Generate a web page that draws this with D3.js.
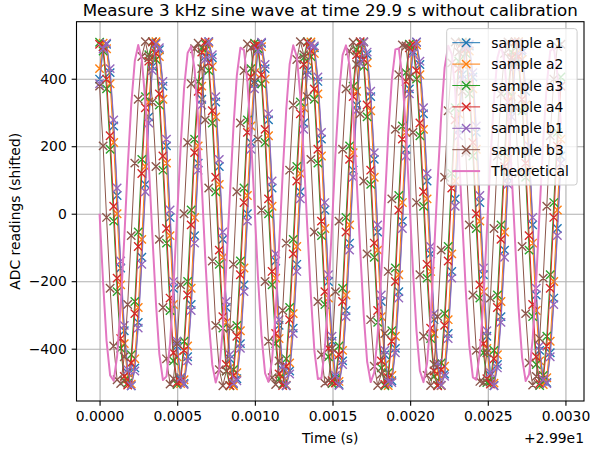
<!DOCTYPE html>
<html>
<head>
<meta charset="utf-8">
<script src="https://cdn.jsdelivr.net/npm/d3@7"></script>
<style>
  body { margin: 0; background: #fff; }
  svg { display: block; font-family: "DejaVu Sans", sans-serif; }
</style>
</head>
<body>
<svg id="chart" width="590" height="451"></svg>
<script>
// sample times, microseconds after 29.9 s (44.1 kHz sampling)
const timeUs = [
  0, 23, 45, 68, 91, 113, 136, 159, 181, 204, 227, 249, 272, 295, 317, 340, 363, 385, 408, 431,
  454, 476, 499, 522, 544, 567, 590, 612, 635, 658, 680, 703, 726, 748, 771, 794, 816, 839, 862, 884,
  907, 930, 952, 975, 998, 1020, 1043, 1066, 1088, 1111, 1134, 1156, 1179, 1202, 1224, 1247, 1270, 1293, 1315, 1338,
  1361, 1383, 1406, 1429, 1451, 1474, 1497, 1519, 1542, 1565, 1587, 1610, 1633, 1655, 1678, 1701, 1723, 1746, 1769, 1791,
  1814, 1837, 1859, 1882, 1905, 1927, 1950, 1973, 1995, 2018, 2041, 2063, 2086, 2109, 2132, 2154, 2177, 2200, 2222, 2245,
  2268, 2290, 2313, 2336, 2358, 2381, 2404, 2426, 2449, 2472, 2494, 2517, 2540, 2562, 2585, 2608, 2630, 2653, 2676, 2698,
  2721, 2744, 2766, 2789, 2812, 2834, 2857, 2880, 2902, 2925, 2948, 2971
];

const sampleA1 = [
  399,495,502,418,260,54,-161,-347,-471,-510,-457,-322,-129,87,287,436,506,486,378,201,
  -11,-221,-392,-492,-503,-424,-269,-65,150,339,466,510,462,331,140,-76,-278,-430,-505,-489,
  -385,-211,0,211,385,489,505,430,278,76,-140,-331,-462,-510,-466,-339,-150,65,269,424,
  503,492,392,221,11,-201,-378,-486,-506,-436,-287,-87,129,322,457,510,471,347,161,-54,
  -260,-418,-502,-495,-399,-231,-22,191,370,482,508,442,296,97,-119,-314,-452,-509,-475,-355,
  -171,44,250,412,500,497,405,241,33,-181,-363,-479,-509,-447,-305,-108,108,305,447,509,
  479,363,181,-33,-241,-405,-497,-500,-412,-250,-44,171
];
const sampleA2 = [
  430,505,489,385,211,0,-211,-385,-489,-505,-430,-278,-76,140,331,462,510,466,339,150,
  -65,-269,-424,-503,-492,-392,-221,-11,201,378,486,506,436,287,87,-129,-322,-457,-510,-471,
  -347,-161,54,260,418,502,495,399,231,22,-191,-370,-482,-508,-442,-296,-97,119,314,452,
  509,475,355,171,-44,-250,-412,-500,-497,-405,-241,-33,181,363,479,509,447,305,108,-108,
  -305,-447,-509,-479,-363,-181,33,241,405,497,500,412,250,44,-171,-355,-475,-509,-452,-314,
  -119,97,296,442,508,482,370,191,-22,-231,-399,-495,-502,-418,-260,-54,161,347,471,510,
  457,322,129,-87,-287,-436,-506,-486,-378,-201,11,221
];
const sampleA3 = [
  508,482,370,191,-22,-231,-399,-495,-502,-418,-260,-54,161,347,471,510,457,322,129,-87,
  -287,-436,-506,-486,-378,-201,11,221,392,492,503,424,269,65,-150,-339,-466,-510,-462,-331,
  -140,76,278,430,505,489,385,211,0,-211,-385,-489,-505,-430,-278,-76,140,331,462,510,
  466,339,150,-65,-269,-424,-503,-492,-392,-221,-11,201,378,486,506,436,287,87,-129,-322,
  -457,-510,-471,-347,-161,54,260,418,502,495,399,231,22,-191,-370,-482,-508,-442,-296,-97,
  119,314,452,509,475,355,171,-44,-250,-412,-500,-497,-405,-241,-33,181,363,479,509,447,
  305,108,-108,-305,-447,-509,-479,-363,-181,33,241,405
];
const sampleA4 = [
  502,495,399,231,22,-191,-370,-482,-508,-442,-296,-97,119,314,452,509,475,355,171,-44,
  -250,-412,-500,-497,-405,-241,-33,181,363,479,509,447,305,108,-108,-305,-447,-509,-479,-363,
  -181,33,241,405,497,500,412,250,44,-171,-355,-475,-509,-452,-314,-119,97,296,442,508,
  482,370,191,-22,-231,-399,-495,-502,-418,-260,-54,161,347,471,510,457,322,129,-87,-287,
  -436,-506,-486,-378,-201,11,221,392,492,503,424,269,65,-150,-339,-466,-510,-462,-331,-140,
  76,278,430,505,489,385,211,0,-211,-385,-489,-505,-430,-278,-76,140,331,462,510,466,
  339,150,-65,-269,-424,-503,-492,-392,-221,-11,201,378
];
const sampleB1 = [
  385,489,505,430,278,76,-140,-331,-462,-510,-466,-339,-150,65,269,424,503,492,392,221,
  11,-201,-378,-486,-506,-436,-287,-87,129,322,457,510,471,347,161,-54,-260,-418,-502,-495,
  -399,-231,-22,191,370,482,508,442,296,97,-119,-314,-452,-509,-475,-355,-171,44,250,412,
  500,497,405,241,33,-181,-363,-479,-509,-447,-305,-108,108,305,447,509,479,363,181,-33,
  -241,-405,-497,-500,-412,-250,-44,171,355,475,509,452,314,119,-97,-296,-442,-508,-482,-370,
  -191,22,231,399,495,502,418,260,54,-161,-347,-471,-510,-457,-322,-129,87,287,436,506,
  486,378,201,-11,-221,-392,-492,-503,-424,-269,-65,150
];
const sampleB3 = [
  378,201,-11,-221,-392,-492,-503,-424,-269,-65,150,339,466,510,462,331,140,-76,-278,-430,
  -505,-489,-385,-211,0,211,385,489,505,430,278,76,-140,-331,-462,-510,-466,-339,-150,65,
  269,424,503,492,392,221,11,-201,-378,-486,-506,-436,-287,-87,129,322,457,510,471,347,
  161,-54,-260,-418,-502,-495,-399,-231,-22,191,370,482,508,442,296,97,-119,-314,-452,-509,
  -475,-355,-171,44,250,412,500,497,405,241,33,-181,-363,-479,-509,-447,-305,-108,108,305,
  447,509,479,363,181,-33,-241,-405,-497,-500,-412,-250,-44,171,355,475,509,452,314,119,
  -97,-296,-442,-508,-482,-370,-191,22,231,399,495,502
];
const theoretical = [
  0,-207,-377,-479,-495,-422,-273,-75,137,324,453,500,457,332,147,-64,-264,-416,-493,-482,
  -384,-217,-11,197,371,476,496,427,281,85,-126,-316,-448,-500,-462,-340,-158,53,255,410,
  492,485,391,226,22,-187,-363,-473,-498,-433,-290,-95,117,308,443,499,466,348,168,-43,
  -245,-404,-490,-487,-397,-236,-32,177,356,470,499,438,299,106,-106,-299,-438,-499,-470,-356,
  -177,32,236,397,487,490,404,245,43,-168,-348,-466,-499,-443,-308,-117,95,290,433,498,
  473,363,187,-22,-226,-391,-485,-492,-410,-255,-53,158,340,462,500,448,316,126,-85,-281,
  -427,-496,-476,-371,-197,11,217,384,482,493,416,264
];

const sampleNames = ["sample a1", "sample a2", "sample a3", "sample a4", "sample b1", "sample b3"];
const sampleColors = ["#1f77b4", "#ff7f0e", "#2ca02c", "#d62728", "#9467bd", "#8c564b"];
const samples = [sampleA1, sampleA2, sampleA3, sampleA4, sampleB1, sampleB3];

const xTicks = [0, 0.0005, 0.001, 0.0015, 0.002, 0.0025, 0.003];
const yTicks = [-400, -200, 0, 200, 400];

const width = 590, height = 451;
const margin = { left: 76.5, right: 6, top: 21.7, bottom: 50 };
const fs = 13.9;

const svg = d3.select("#chart");

const times = timeUs.map(t => t * 1e-6);
const tExt = d3.extent(times);
const pad = (tExt[1] - tExt[0]) * 0.05;

const x = d3.scaleLinear()
  .domain([tExt[0] - pad, tExt[1] + pad])
  .range([margin.left, width - margin.right]);
const y = d3.scaleLinear()
  .domain([-555, 569])
  .range([height - margin.bottom, margin.top]);

const plotW = width - margin.left - margin.right;
const plotH = height - margin.top - margin.bottom;

// grid
svg.append("g")
  .attr("transform", `translate(0,${height - margin.bottom})`)
  .call(d3.axisBottom(x).tickValues(xTicks).tickSize(-plotH).tickFormat(""))
  .call(g => g.select(".domain").remove())
  .call(g => g.selectAll("line").attr("stroke", "#b0b0b0").attr("stroke-width", 1.1));
svg.append("g")
  .attr("transform", `translate(${margin.left},0)`)
  .call(d3.axisLeft(y).tickValues(yTicks).tickSize(-plotW).tickFormat(""))
  .call(g => g.select(".domain").remove())
  .call(g => g.selectAll("line").attr("stroke", "#b0b0b0").attr("stroke-width", 1.1));

svg.append("clipPath").attr("id", "plotclip")
  .append("rect")
  .attr("x", margin.left).attr("y", margin.top)
  .attr("width", plotW).attr("height", plotH);

const plot = svg.append("g").attr("clip-path", "url(#plotclip)");

const line = d3.line()
  .x(d => x(d[0]))
  .y(d => y(d[1]));

const xMark = (cx, cy, r) => `M${cx - r},${cy - r}L${cx + r},${cy + r}M${cx - r},${cy + r}L${cx + r},${cy - r}`;

samples.forEach((vals, i) => {
  const pts = vals.map((v, k) => [times[k], v]);
  plot.append("path")
    .attr("fill", "none")
    .attr("stroke", sampleColors[i])
    .attr("stroke-width", 1)
    .attr("d", line(pts));
  plot.append("path")
    .attr("fill", "none")
    .attr("stroke", sampleColors[i])
    .attr("stroke-width", 1.39)
    .attr("d", pts.map(p => xMark(x(p[0]), y(p[1]), 4.2)).join(""));
});

plot.append("path")
  .attr("fill", "none")
  .attr("stroke", "#e377c2")
  .attr("stroke-width", 2)
  .attr("stroke-linejoin", "round")
  .attr("d", line(theoretical.map((v, k) => [times[k], v])));

// axes
const xAxis = svg.append("g")
  .attr("transform", `translate(0,${height - margin.bottom})`)
  .call(d3.axisBottom(x).tickValues(xTicks).tickSize(4.86).tickPadding(4.86).tickFormat(d3.format(".4f")));
const yAxis = svg.append("g")
  .attr("transform", `translate(${margin.left},0)`)
  .call(d3.axisLeft(y).tickValues(yTicks).tickSize(4.86).tickPadding(4.86).tickFormat(d3.format("d")));
[xAxis, yAxis].forEach(g => {
  g.select(".domain").remove();
  g.selectAll("line").attr("stroke", "#000").attr("stroke-width", 1.1);
  g.selectAll("text").attr("fill", "#000").style("font-size", fs + "px").style("font-family", "DejaVu Sans");
});

svg.append("rect")
  .attr("x", margin.left).attr("y", margin.top)
  .attr("width", plotW).attr("height", plotH)
  .attr("fill", "none").attr("stroke", "#000").attr("stroke-width", 1.1);

// labels
svg.append("text")
  .attr("x", margin.left + plotW / 2)
  .attr("y", 16)
  .attr("text-anchor", "middle")
  .style("font-size", "16.7px")
  .text("Measure 3 kHz sine wave at time 29.9 s without calibration");

svg.append("text")
  .attr("x", margin.left + plotW / 2)
  .attr("y", 443)
  .attr("text-anchor", "middle")
  .style("font-size", fs + "px")
  .text("Time (s)");

svg.append("text")
  .attr("x", width - margin.right)
  .attr("y", 443)
  .attr("text-anchor", "end")
  .style("font-size", fs + "px")
  .text("+2.99e1");

svg.append("text")
  .attr("transform", `translate(19.5,${margin.top + plotH / 2}) rotate(-90)`)
  .attr("text-anchor", "middle")
  .style("font-size", fs + "px")
  .text("ADC readings (shifted)");

// legend
const legend = svg.append("g");
legend.append("rect")
  .attr("x", 446.7).attr("y", 28.6)
  .attr("width", 130.4).attr("height", 156.4)
  .attr("rx", 2.8)
  .attr("fill", "#fff").attr("fill-opacity", 0.8)
  .attr("stroke", "#cccccc").attr("stroke-width", 1);

const legendItems = sampleNames.map((n, i) => ({ name: n, color: sampleColors[i], marker: true }))
  .concat([{ name: "Theoretical", color: "#e377c2", marker: false }]);

legendItems.forEach((it, i) => {
  const cy = 42.7 + i * 21.4;
  legend.append("line")
    .attr("x1", 452.3).attr("x2", 480.1)
    .attr("y1", cy).attr("y2", cy)
    .attr("stroke", it.color)
    .attr("stroke-width", it.marker ? 1 : 2);
  if (it.marker) {
    legend.append("path")
      .attr("d", xMark(466.2, cy, 4.2))
      .attr("stroke", it.color).attr("stroke-width", 1.39);
  }
  legend.append("text")
    .attr("x", 491.2).attr("y", cy + 5)
    .style("font-size", fs + "px")
    .text(it.name);
});
</script>
</body>
</html>
